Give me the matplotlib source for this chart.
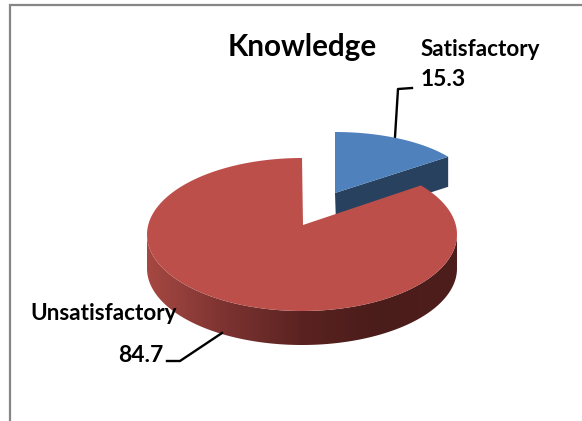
import numpy as np
import matplotlib
matplotlib.use("Agg")
matplotlib.rcParams['font.family'] = ['Lato', 'DejaVu Sans']
import matplotlib.pyplot as plt
from matplotlib.colors import LinearSegmentedColormap
from matplotlib.patches import Polygon

categories = ['Satisfactory', 'Unsatisfactory']
values = [15.3, 84.7]
title = 'Knowledge'


def arc(cx, cy, rx, ry, a, b):
    t = np.radians(np.linspace(a, b, 200))
    return np.column_stack([cx + rx * np.cos(t), cy - ry * np.sin(t)])


def draw():
    fig = plt.figure(figsize=(5.82, 4.21), dpi=100)
    ax = fig.add_axes([0, 0, 1, 1])
    ax.set_xlim(0, 582)
    ax.set_ylim(421, 0)
    ax.axis('off')

    # chart frame, only top and left are visible in the crop
    ax.plot([10, 10, 582], [421, 5, 5], color='#868686', lw=1.6, solid_joinstyle='miter')

    sweep = 360 * values[0] / sum(values)
    start = 90 - sweep  # blue slice ends at 12 o'clock

    # exploded blue slice
    bx, by, brx, bry = 335, 190, 138, 58
    apex_b = np.array([335, 193])
    blue_arc = arc(bx, by, brx, bry, start, 90)
    tip = blue_arc[0]
    wall = np.array([apex_b, tip, tip + [0, 30], apex_b + [1, 30]])
    ax.add_patch(Polygon(wall, fc='#27415F', ec='none', zorder=2))
    ax.add_patch(Polygon(np.vstack([apex_b, blue_arc]), fc='#4F81BD', ec='none', zorder=3))

    # red slice
    cx, cy, rx, ry, depth = 302, 234.5, 155, 76.5, 34
    apex_r = np.array([303, 225])
    low = arc(cx, cy, rx, ry, 180, 360)
    side = np.vstack([low, (low + [0, depth])[::-1]])
    side_patch = Polygon(side, fc='none', ec='none', zorder=4)
    ax.add_patch(side_patch)
    cmap = LinearSegmentedColormap.from_list(
        'side', ['#A64842', '#7C3331', '#5A2321', '#4A1C1A', '#4E1E1C'])
    im = ax.imshow(np.linspace(0, 1, 256).reshape(1, -1), cmap=cmap, aspect='auto',
                   extent=[cx - rx, cx + rx, cy + depth + ry, cy - ry], zorder=4)
    im.set_clip_path(side_patch)
    ax.set_xlim(0, 582)
    ax.set_ylim(421, 0)

    # 5 deg: the tilted view opens the far edge a little
    red_arc = arc(cx, cy, rx, ry, 90, 360 + start + 5)
    ax.add_patch(Polygon(np.vstack([apex_r, red_arc]), fc='#BD4F4B', ec='none', zorder=5))

    # leader lines
    ax.plot([395, 398, 412], [137, 89, 88], color='black', lw=1.7, zorder=1)
    ax.plot([222, 180, 167], [333, 361, 361], color='black', lw=1.7, zorder=6)

    ax.text(228, 47, title, fontsize=21.3, fontweight='bold', va='center', ha='left', zorder=7)
    ax.text(421, 49, categories[0], fontsize=16.2, fontweight='bold', va='center', ha='left', zorder=7)
    ax.text(421, 79, '%.1f' % values[0], fontsize=16.5, fontweight='bold', va='center', ha='left', zorder=7)
    ax.text(30, 314, categories[1], fontsize=16.2, fontweight='bold', va='center', ha='left', zorder=7)
    ax.text(118, 355, '%.1f' % values[1], fontsize=16.5, fontweight='bold', va='center', ha='left', zorder=7)

    fig.savefig('out.png', dpi=100, facecolor='white')


if __name__ == "__main__":
    draw()
